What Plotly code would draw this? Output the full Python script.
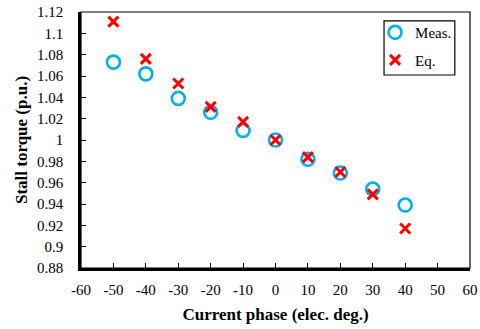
import plotly.graph_objects as go

phase = [-50, -40, -30, -20, -10, 0, 10, 20, 30, 40]
meas = [1.073, 1.062, 1.039, 1.026, 1.009, 1.000, 0.982, 0.969, 0.954, 0.939]
eq = [1.111, 1.076, 1.053, 1.031, 1.017, 1.000, 0.984, 0.970, 0.949, 0.917]
x_ticks = [-60, -50, -40, -30, -20, -10, 0, 10, 20, 30, 40, 50, 60]
x_labels = ["-60", "-50", "-40", "-30", "-20", "-10", "0", "10", "20", "30", "40", "50", "60"]
y_ticks = [0.88, 0.90, 0.92, 0.94, 0.96, 0.98, 1.00, 1.02, 1.04, 1.06, 1.08, 1.10, 1.12]
y_labels = ["0.88", "0.9", "0.92", "0.94", "0.96", "0.98", "1", "1.02", "1.04", "1.06", "1.08", "1.1", "1.12"]

font = "Liberation Serif"

fig = go.Figure()
fig.add_trace(go.Scatter(x=phase, y=meas, mode="markers", name="Meas.", legendgroup="m",
                         marker=dict(symbol="circle-open", size=13, color="#00b0f0",
                                     line=dict(width=2.6, color="#00b0f0"))))
fig.add_trace(go.Scatter(x=phase, y=eq, mode="markers", name="Eq.", legendgroup="e",
                         marker=dict(symbol="x-thin-open", size=10, color="#ff0000",
                                     line=dict(width=3, color="#ff0000"))))

fig.update_layout(
    width=480, height=329,
    margin=dict(l=81, r=10, t=12, b=61, autoexpand=False),
    paper_bgcolor="white", plot_bgcolor="white",
    font=dict(family=font, size=15, color="black"),
    showlegend=True,
    legend=dict(x=0.756, y=0.984, xanchor="left", yanchor="top",
                borderwidth=0, bgcolor="rgba(0,0,0,0)",
                font=dict(family=font, size=15, color="black"),
                itemwidth=30, tracegroupgap=5),
    xaxis=dict(range=[-60, 60], tickvals=x_ticks, ticktext=x_labels, ticks="inside", ticklen=5,
               tickcolor="black", showgrid=False, zeroline=False, automargin=False,
               showline=True, linecolor="black", linewidth=2.5,
               ticklabelstandoff=6,
               title=dict(text="<b>Current phase (elec. deg.)</b>",
                          font=dict(family=font, size=17), standoff=12)),
    yaxis=dict(range=[0.88, 1.12], tickvals=y_ticks, ticktext=y_labels, automargin=False,
               ticks="inside", ticklen=5, tickcolor="black", showgrid=False,
               zeroline=False, showline=True, linecolor="black", linewidth=2.5,
               ticklabelstandoff=12,
               title=dict(text="<b>Stall torque (p.u.)</b>",
                          font=dict(family=font, size=17), standoff=6)),
    shapes=[dict(type="rect", xref="paper", yref="paper", x0=0, y0=0, x1=1, y1=1,
                 line=dict(color="black", width=1.2), layer="above"),
            dict(type="rect", xref="paper", yref="paper", x0=0.779, y0=0.754, x1=0.961, y1=0.965,
                 line=dict(color="black", width=1.2), fillcolor="white", layer="below")],
)

fig.write_html("out.html", config={"displayModeBar": False},
               post_script="document.body.style.margin='0px';document.body.style.overflow='hidden';")
